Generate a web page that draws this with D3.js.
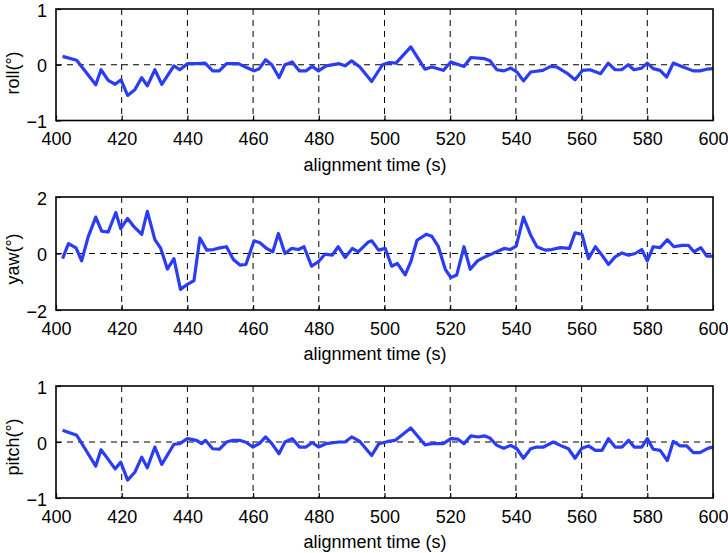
<!DOCTYPE html>
<html>
<head>
<meta charset="utf-8">
<script src="https://cdn.jsdelivr.net/npm/d3@7"></script>
<style>
  body { margin: 0; background: #fff; }
  svg text { font-family: "Liberation Sans", Arial, Helvetica, sans-serif; }
</style>
</head>
<body>
<div id="chart"></div>
<script>
// data: [time (s), angle (deg)]
const roll = [[402,0.15],[406.3,0.08],[412.1,-0.36],[413.7,-0.09],[415.9,-0.28],[418,-0.35],[419.8,-0.27],[421.8,-0.55],[424,-0.45],[426.1,-0.23],[427.8,-0.38],[430.1,-0.09],[432.2,-0.35],[435.9,-0.02],[437.7,-0.09],[440,0.02],[442.8,0.02],[445.4,0.03],[447.7,-0.11],[449.7,-0.11],[451.9,0.02],[455.5,0.02],[458,-0.05],[460.3,-0.11],[461.9,-0.07],[463.8,0.09],[465.7,0],[467.9,-0.23],[469.7,0],[471.9,0.05],[474.1,-0.11],[476.1,-0.11],[478,-0.03],[479.9,-0.11],[482.2,-0.02],[486.2,0.02],[488,-0.02],[490,0.07],[492.5,-0.04],[496.1,-0.3],[499.4,0],[501.5,0.04],[503.5,0.03],[508,0.32],[512.3,-0.08],[514.4,-0.04],[517.9,-0.1],[520.2,0.05],[524.2,-0.03],[526.3,0.13],[530.3,0.11],[532.1,0.07],[534.2,-0.09],[536.4,-0.11],[538.4,-0.06],[540.3,-0.13],[542.3,-0.29],[544.5,-0.13],[548.2,-0.1],[550.6,-0.03],[552.4,-0.04],[555.5,-0.15],[558,-0.27],[560.3,-0.1],[562.6,-0.09],[565.8,-0.16],[568.1,0.03],[570.2,-0.09],[572.2,-0.09],[574.2,0],[575.9,-0.09],[578.3,-0.06],[580,0.03],[581.8,-0.07],[583.9,-0.1],[585.9,-0.22],[587.9,0.03],[590.5,-0.03],[594,-0.11],[596,-0.11],[598.1,-0.08],[600,-0.07]];

const yaw = [[402,-0.18],[403.8,0.35],[406.1,0.2],[407.8,-0.26],[409.8,0.59],[412.1,1.29],[413.9,0.79],[415.9,0.76],[418.2,1.45],[419.7,0.88],[421.8,1.24],[423.8,0.94],[426.1,0.68],[427.8,1.49],[430.1,0.49],[431.9,0.18],[433.9,-0.55],[435.9,-0.18],[437.9,-1.27],[440,-1.09],[442,-0.96],[443.8,0.55],[445.9,0.12],[447.9,0.14],[449.9,0.2],[451.9,0.24],[454,-0.21],[456,-0.41],[457.8,-0.39],[460.3,0.45],[462.1,0.38],[464.1,0.18],[466,0.06],[467.7,0.71],[469.7,0],[471.7,0.18],[473.8,0.14],[475.5,0.24],[477.8,-0.45],[479.9,-0.29],[481.9,-0.02],[484.1,-0.06],[485.9,0.24],[488,-0.14],[490.2,0.18],[492,0.06],[495.1,0.41],[496.1,0.45],[498.2,0.12],[500.2,0.18],[502.2,-0.45],[503.9,-0.35],[506.3,-0.76],[508,-0.29],[509.9,0.47],[512.7,0.68],[514.4,0.61],[516.4,0.24],[518.5,-0.56],[520.2,-0.85],[522,-0.76],[524.2,0.24],[526.1,-0.56],[528.3,-0.26],[530.6,-0.12],[533.7,0.04],[536.4,0.18],[538.2,0.14],[540.1,0.26],[542.3,1.29],[544.5,0.65],[546.4,0.24],[548.9,0.12],[550.9,0.14],[553.5,0.21],[556.3,0.18],[558,0.73],[560.1,0.68],[562.1,-0.18],[564.2,0.24],[566.2,-0.06],[568.2,-0.39],[570.2,-0.12],[572.3,0.02],[574.3,-0.06],[576.3,0],[578.3,0.14],[580,-0.26],[581.8,0.24],[583.9,0.21],[586.1,0.49],[588.1,0.24],[590.5,0.29],[592.5,0.29],[594.2,0.06],[596.3,0.21],[598.1,-0.09],[600,-0.09]];

const pitch = [[402,0.21],[406.3,0.12],[412.1,-0.43],[413.7,-0.14],[415.9,-0.31],[418,-0.48],[419.7,-0.36],[421.8,-0.68],[424,-0.54],[426.1,-0.27],[427.8,-0.46],[430.1,-0.09],[432.2,-0.4],[435.9,-0.04],[437.7,-0.03],[440,0.06],[442.8,0.03],[444.3,-0.03],[445.5,0.03],[447.7,-0.12],[449.7,-0.13],[451.9,0],[453.9,0.03],[455.9,0.03],[458,-0.01],[459.9,-0.09],[461.9,-0.03],[463.8,0.09],[465.7,-0.03],[467.9,-0.21],[469.7,0],[471.9,0.06],[474.1,-0.09],[476.1,-0.09],[478,-0.01],[479.9,-0.09],[482.2,-0.03],[486.2,0],[488,0],[490,0.09],[492.5,0.01],[496.1,-0.24],[498.3,-0.03],[501.1,0.01],[503.3,0.03],[508,0.25],[512.3,-0.05],[514.4,-0.03],[517.9,-0.03],[520.2,0.06],[522.4,0.05],[524.2,-0.03],[526.3,0.11],[528.6,0.09],[530.3,0.11],[532.1,0.07],[534.2,-0.06],[536.3,-0.11],[538.4,-0.06],[540.3,-0.12],[542.3,-0.29],[544.5,-0.12],[546.3,-0.09],[548.4,-0.09],[551.4,0],[553.5,-0.06],[556,-0.12],[558,-0.29],[560.1,-0.11],[562.1,-0.07],[564.2,-0.15],[566.2,-0.15],[568.2,0.06],[570.2,-0.09],[572.3,-0.09],[574.3,0.03],[576,-0.09],[578.3,-0.09],[580,0.06],[581.8,-0.13],[583.9,-0.15],[586.1,-0.33],[587.9,0.01],[590,-0.07],[592,-0.07],[594,-0.19],[596,-0.19],[598.6,-0.11],[600,-0.09]];

const xTicks = [400, 420, 440, 460, 480, 500, 520, 540, 560, 580, 600];
const xTitle = "alignment time (s)";

const width = 728;
const height = 553;

const svg = d3.select("#chart")
  .append("svg")
  .attr("width", width)
  .attr("height", height);

const x = d3.scaleLinear().domain([400, 600]).range([56, 713]);

// one entry per subplot
const panels = [
  { name: "roll(°)",  data: roll,  domain: [-1, 1], ticks: [-1, 0, 1], top: 9,   bottom: 120.5, labelY: 73 },
  { name: "yaw(°)",   data: yaw,   domain: [-2, 2], ticks: [-2, 0, 2], top: 197, bottom: 310,   labelY: 259 },
  { name: "pitch(°)", data: pitch, domain: [-1, 1], ticks: [-1, 0, 1], top: 386, bottom: 498,   labelY: 447 }
];

panels.forEach(p => {
  const y = d3.scaleLinear().domain(p.domain).range([p.bottom, p.top]);
  const g = svg.append("g");

  // dashed grid
  g.selectAll(".vgrid")
    .data(xTicks.slice(1, -1))
    .join("line")
    .attr("x1", d => x(d)).attr("x2", d => x(d))
    .attr("y1", p.top).attr("y2", p.bottom)
    .attr("stroke", "#000")
    .attr("stroke-width", 1)
    .attr("stroke-dasharray", "6,5");

  g.append("line")
    .attr("x1", x(400)).attr("x2", x(600))
    .attr("y1", y(0)).attr("y2", y(0))
    .attr("stroke", "#000")
    .attr("stroke-width", 1)
    .attr("stroke-dasharray", "6,5");

  // bottom axis, ticks pointing in
  const xAxis = g.append("g")
    .attr("transform", `translate(0,${p.bottom})`)
    .call(d3.axisBottom(x).tickValues(xTicks).tickSizeInner(-5).tickSizeOuter(0).tickFormat(d3.format("d")));
  xAxis.select(".domain").remove();
  xAxis.selectAll("line").attr("stroke-width", 1.2);
  xAxis.selectAll("text")
    .attr("y", 24.5).attr("dy", null)
    .attr("font-size", 18).attr("fill", "#000")
    .attr("font-family", "Liberation Sans, Arial, sans-serif");

  // left axis
  const yAxis = g.append("g")
    .attr("transform", `translate(${x(400)},0)`)
    .call(d3.axisLeft(y).tickValues(p.ticks).tickSizeInner(-5).tickSizeOuter(0).tickPadding(9).tickFormat(d3.format("d")));
  yAxis.select(".domain").remove();
  yAxis.selectAll("line").attr("stroke-width", 1.2);
  yAxis.selectAll("text")
    .attr("dy", "0.4em")
    .attr("font-size", 18).attr("fill", "#000")
    .attr("font-family", "Liberation Sans, Arial, sans-serif");

  // the series
  const line = d3.line().x(d => x(d[0])).y(d => y(d[1]));
  g.append("path")
    .datum(p.data)
    .attr("d", line)
    .attr("fill", "none")
    .attr("stroke", "#2a3cf4")
    .attr("stroke-width", 3.2)
    .attr("stroke-linejoin", "round");

  // box
  g.append("rect")
    .attr("x", x(400)).attr("y", p.top)
    .attr("width", x(600) - x(400)).attr("height", p.bottom - p.top)
    .attr("fill", "none")
    .attr("stroke", "#000")
    .attr("stroke-width", 1.6);

  // labels
  g.append("text")
    .attr("x", 375).attr("y", p.bottom + 50)
    .attr("text-anchor", "middle")
    .attr("font-size", 18)
    .text(xTitle);

  g.append("text")
    .attr("transform", `translate(19,${p.labelY}) rotate(-90)`)
    .attr("text-anchor", "middle")
    .attr("font-size", 18)
    .text(p.name);
});
</script>
</body>
</html>
